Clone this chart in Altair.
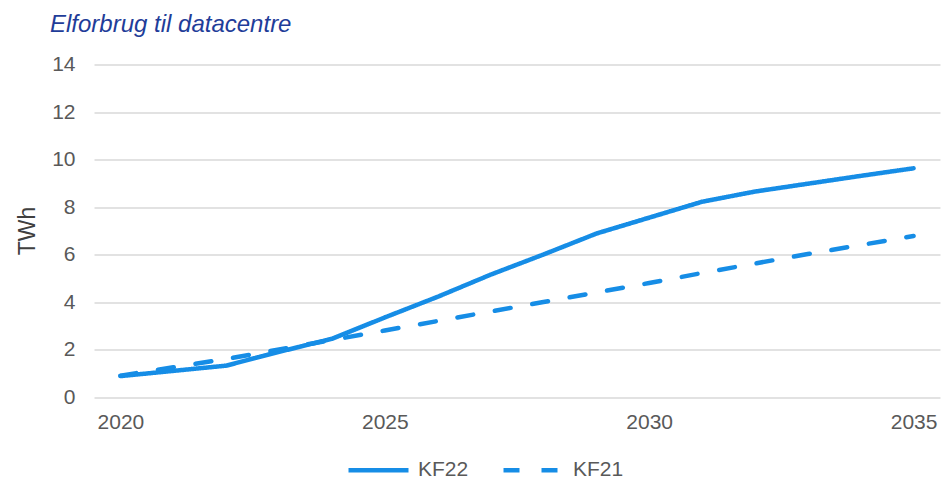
import altair as alt
import pandas as pd

years = list(range(2020, 2036))
kf22 = [0.88, 1.10, 1.32, 1.90, 2.45, 3.35, 4.22, 5.15, 6.00, 6.88, 7.55, 8.22, 8.65, 8.98, 9.31, 9.63]
kf21 = [0.90, 1.25, 1.60, 2.00, 2.40, 2.80, 3.20, 3.60, 4.00, 4.40, 4.80, 5.22, 5.62, 6.02, 6.40, 6.78]
series_names = ["KF22", "KF21"]
x_ticks = [2020, 2025, 2030, 2035]
y_ticks = [0, 2, 4, 6, 8, 10, 12, 14]

rows = []
for name, vals in zip(series_names, [kf22, kf21]):
    for yr, v in zip(years, vals):
        rows.append({"year": yr, "value": v, "series": name})
df = pd.DataFrame(rows)

BLUE = "#168de6"
GRAY = "#595959"

chart = alt.Chart(df).mark_line(
    color=BLUE, strokeWidth=4.5, strokeCap="round", strokeJoin="round"
).encode(
    x=alt.X("year:Q",
            scale=alt.Scale(domain=[2019.5, 2035.5], nice=False, zero=False),
            axis=alt.Axis(values=x_ticks, format="d", title=None, grid=False,
                          domain=False, ticks=False, labelPadding=14,
                          labelFontSize=21, labelColor=GRAY, labelFont="Liberation Sans")),
    y=alt.Y("value:Q",
            scale=alt.Scale(domain=[0, 14], nice=False),
            axis=alt.Axis(values=y_ticks, title="TWh", grid=True, gridColor="#d9d9d9",
                          gridWidth=1.5, domain=False, ticks=False, labelPadding=19,
                          labelFontSize=21, labelColor=GRAY, labelFont="Liberation Sans",
                          titleFontSize=23, titleColor="#404040", titleFontWeight="normal",
                          titleFont="Liberation Sans", titleAngle=-90,
                          titleX=-66.5, titleY=166, titleBaseline="middle", titleAlign="center")),
    strokeDash=alt.StrokeDash("series:N",
            scale=alt.Scale(domain=series_names, range=[[1, 0], [16, 22]]),
            legend=alt.Legend(title=None, orient="none", direction="horizontal",
                              legendX=252, legendY=373, symbolType="stroke",
                              symbolSize=3600, symbolStrokeWidth=4.5,
                              symbolStrokeColor=BLUE, labelFontSize=21,
                              labelColor=GRAY, labelFont="Liberation Sans",
                              labelOffset=7, columnPadding=25)),
    detail="series:N",
).properties(
    width=846,
    height=332.5,
    title=alt.TitleParams("Elforbrug til datacentre", anchor="start", frame="group",
                          fontSize=24, fontStyle="italic", fontWeight="normal",
                          color="#1f3d99", font="Liberation Sans", dx=-44, dy=-13),
    padding={"left": 94, "top": 64.5, "right": 9, "bottom": 84},
    autosize=alt.AutoSizeParams(type="none"),
).configure_view(stroke=None)

chart.save("out.html", embed_options={"renderer": "svg", "actions": False})
